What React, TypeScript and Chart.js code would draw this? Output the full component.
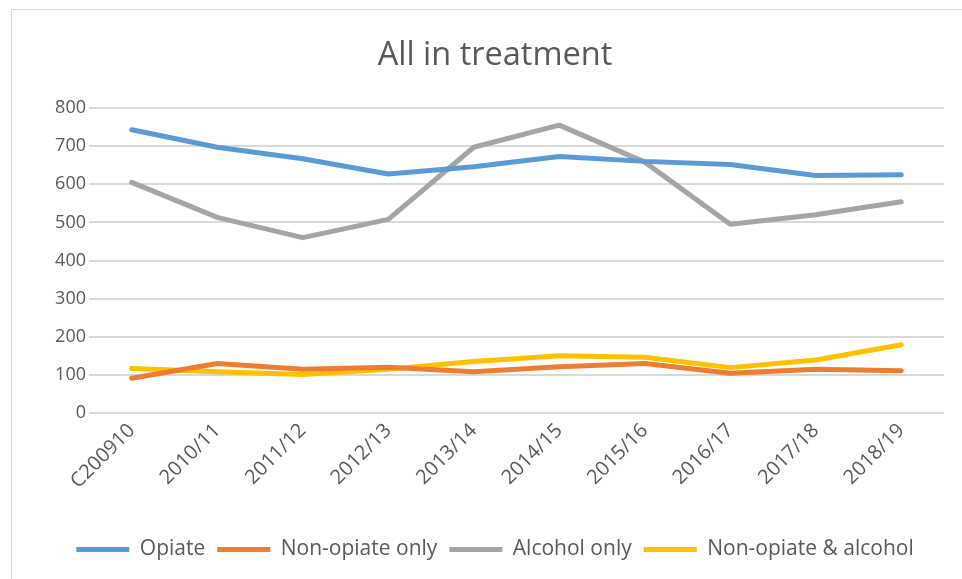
import React, { useEffect, useRef } from "react";
import { Chart, registerables } from "chart.js";

Chart.register(...registerables);

const categories = [
  "C200910", "2010/11", "2011/12", "2012/13", "2013/14",
  "2014/15", "2015/16", "2016/17", "2017/18", "2018/19",
];
const opiate = [743, 697, 667, 627, 646, 673, 660, 652, 623, 625];
const nonOpiateOnly = [91, 130, 115, 120, 108, 121, 130, 104, 115, 111];
const alcoholOnly = [605, 513, 460, 508, 697, 755, 658, 495, 520, 554];
const nonOpiateAlcohol = [117, 108, 101, 115, 135, 150, 146, 119, 139, 179];
const yTicks = [0, 100, 200, 300, 400, 500, 600, 700, 800];

const FONT = "'Open Sans', 'Liberation Sans', sans-serif";
const TEXT = "#595959";

export default function App() {
  const ref = useRef<HTMLCanvasElement | null>(null);

  useEffect(() => {
    if (!ref.current) return;
    const mk = (label: string, data: number[], color: string) => ({
      label,
      data,
      borderColor: color,
      backgroundColor: color,
      borderWidth: 5,
      pointRadius: 0,
      pointHoverRadius: 0,
      tension: 0,
      fill: false,
      yAxisID: "y",
      borderCapStyle: "round" as const,
      borderJoinStyle: "round" as const,
    });
    const chart = new Chart(ref.current, {
      type: "line",
      data: {
        labels: categories,
        datasets: [
          mk("Opiate", opiate, "#5B9BD5"),
          mk("Non-opiate only", nonOpiateOnly, "#ED7D31"),
          mk("Alcohol only", alcoholOnly, "#A5A5A5"),
          mk("Non-opiate & alcohol", nonOpiateAlcohol, "#FFC000"),
        ],
      },
      options: {
        animation: false,
        responsive: false,
        maintainAspectRatio: false,
        layout: { padding: { left: 0, right: 0, top: 0, bottom: 9 } },
        plugins: {
          title: {
            display: true,
            text: "All in treatment",
            color: TEXT,
            font: { family: FONT, size: 32.5, weight: "normal" },
            padding: { top: 26, bottom: 33 },
          },
          legend: {
            display: true,
            position: "bottom",
            labels: {
              usePointStyle: true,
              pointStyle: "line",
              pointStyleWidth: 53,
              boxWidth: 53,
              color: TEXT,
              font: { family: FONT, size: 21 },
              padding: 12,
            },
          },
          tooltip: { enabled: false },
        },
        scales: {
          x: {
            offset: true,
            grid: { display: false, drawTicks: false },
            border: { display: false },
            ticks: {
              color: TEXT,
              font: { family: FONT, size: 20 },
              minRotation: 45,
              maxRotation: 45,
              padding: 6,
            },
            afterFit: (s: any) => {
              s.height = 114;
            },
          },
          y: {
            min: 0,
            max: 800,
            afterBuildTicks: (s: any) => {
              s.ticks = yTicks.map((v) => ({ value: v }));
            },
            grid: { color: "#D9D9D9", lineWidth: 2, drawTicks: false },
            border: { display: false },
            ticks: {
              color: TEXT,
              font: { family: FONT, size: 18 },
              padding: 3,
            },
            afterFit: (s: any) => {
              s.width = 77;
            },
          },
          y2: {
            position: "right",
            min: 0,
            max: 800,
            grid: { display: false, drawTicks: false },
            border: { display: false },
            ticks: { display: false },
            afterFit: (s: any) => {
              s.width = 34;
            },
          },
        },
      },
    });
    return () => chart.destroy();
  }, []);

  return (
    <div style={{ position: "fixed", left: 0, top: 0, width: 962, height: 579, overflow: "hidden", background: "#fff" }}>
      <div
        style={{
          position: "absolute",
          left: 11,
          top: 9,
          width: 1000,
          height: 600,
          border: "1px solid #D9D9D9",
        }}
      />
      <canvas
        ref={ref}
        width={966}
        height={569}
        style={{ position: "absolute", left: 12, top: 10, width: 966, height: 569 }}
      />
    </div>
  );
}
